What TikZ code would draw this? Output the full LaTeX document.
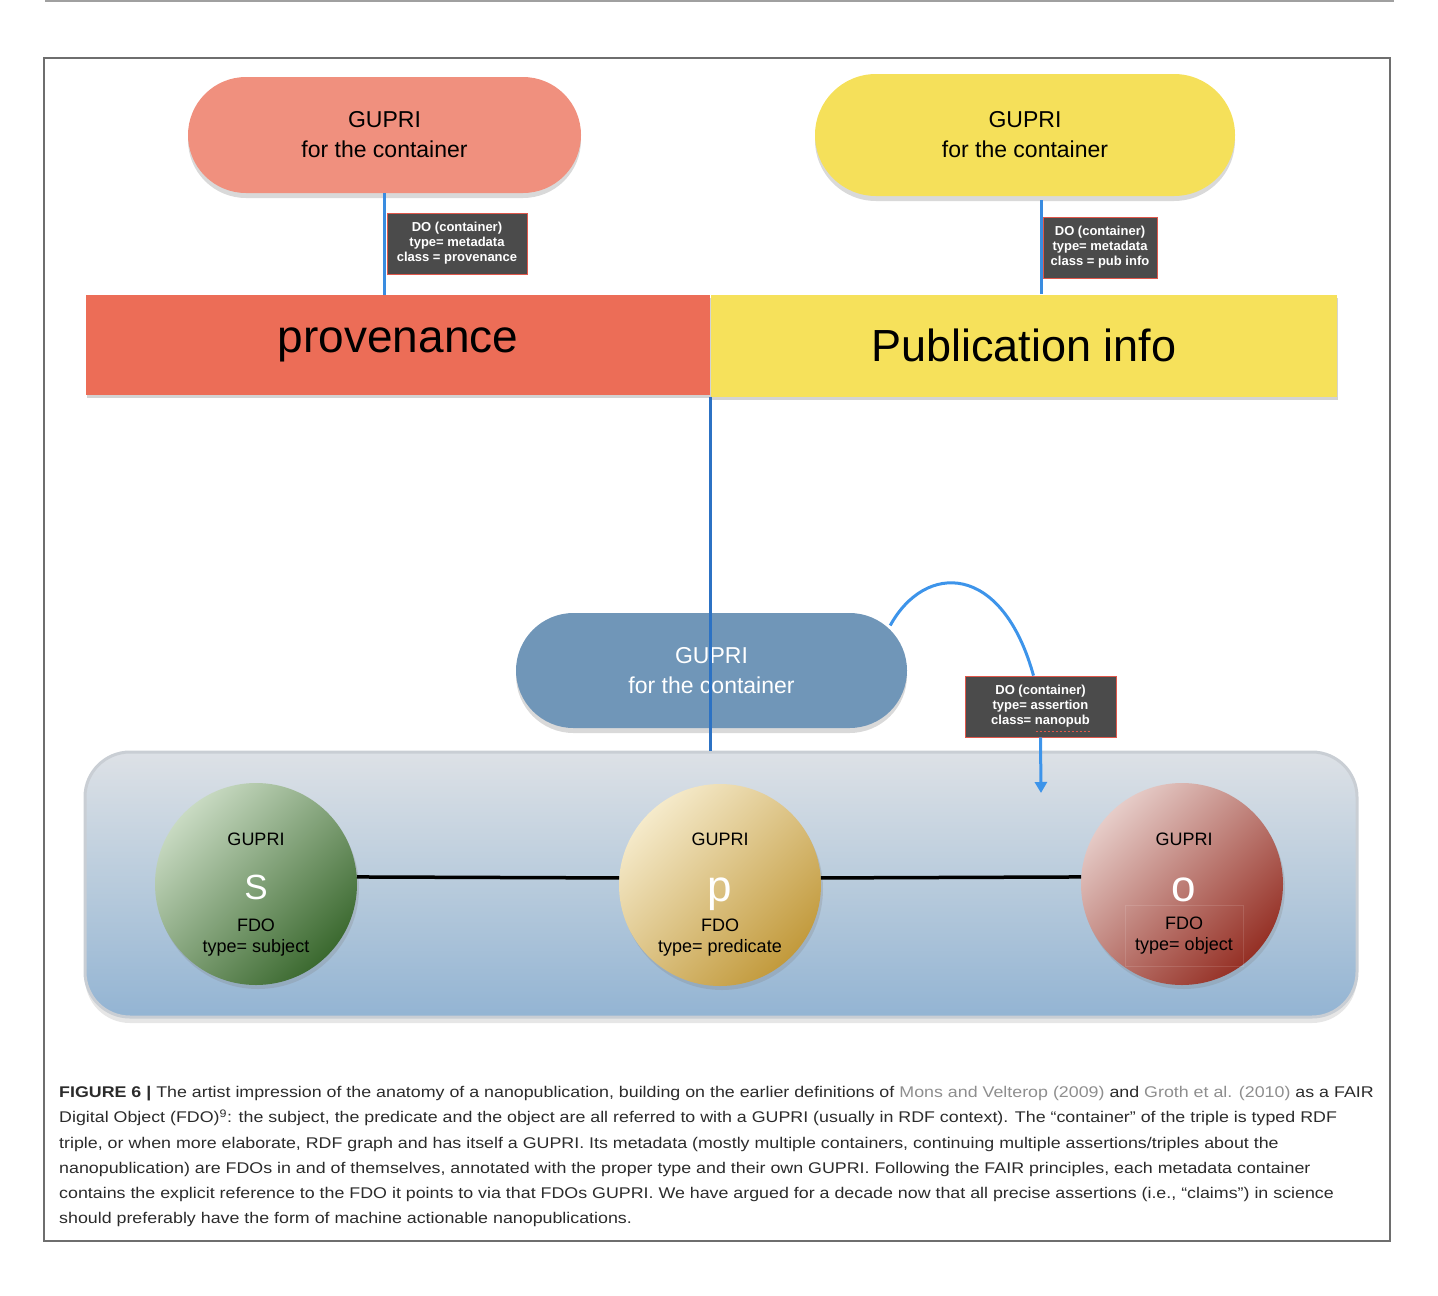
\documentclass[tikz,border=0pt]{standalone}
\usepackage{fontspec}
\setmainfont{Liberation Sans}
\newfontfamily\capfont{Liberation Sans}[FakeStretch=1.15]
\usetikzlibrary{positioning,shapes.misc,shadows,arrows.meta}

\definecolor{provpill}{HTML}{F0907E}
\definecolor{provfill}{HTML}{EC6D57}
\definecolor{pubpill}{HTML}{F5E05A}
\definecolor{pubfill}{HTML}{F6E15B}
\definecolor{assertpill}{HTML}{7096B8}
\definecolor{dogray}{HTML}{4B4B4B}
\definecolor{doborder}{HTML}{E0574B}
\definecolor{linkblue}{HTML}{3A8CE0}
\definecolor{mainblue}{HTML}{2C72C4}
\definecolor{arcblue}{HTML}{3D94EA}
\definecolor{tripletop}{HTML}{DDE1E6}
\definecolor{triplemid}{HTML}{B8CBDC}
\definecolor{triplebottom}{HTML}{93B4D3}
\definecolor{tripleedge}{HTML}{C9CED4}
\definecolor{subjlight}{HTML}{C8DAC2}
\definecolor{subjdark}{HTML}{3B692F}
\definecolor{predlight}{HTML}{F5EACA}
\definecolor{preddark}{HTML}{C29A3C}
\definecolor{objlight}{HTML}{E6CCC8}
\definecolor{objdark}{HTML}{953025}
\definecolor{captext}{HTML}{2B2B2B}
\definecolor{citegray}{HTML}{8E8E8E}
\definecolor{framegray}{HTML}{6E6E6E}
\definecolor{pagegray}{HTML}{A0A0A0}

\begin{document}
\begin{tikzpicture}[
    x=1pt, y=-1pt,
    >={Triangle[length=11pt,width=12pt]},
    pill/.style={rounded rectangle, align=center, inner sep=0pt,
        font=\fontsize{23}{30}\selectfont,
        drop shadow={opacity=0.3, shadow xshift=0pt, shadow yshift=-5pt}},
    metabox/.style={rectangle, inner sep=0pt, font=\fontsize{46}{50}\selectfont,
        drop shadow={opacity=0.35, shadow xshift=1pt, shadow yshift=-3pt}},
    dolabel/.style={rectangle, fill=dogray, draw=doborder, line width=0.8pt,
        text=white, align=center, inner sep=0pt,
        font=\bfseries\fontsize{13}{15}\selectfont},
    triplebox/.style={rectangle, rounded corners=45pt, draw=tripleedge, line width=3pt,
        top color=tripletop, bottom color=triplebottom, middle color=triplemid,
        drop shadow={opacity=0.2, shadow xshift=0pt, shadow yshift=-6pt}},
    fdo/.style 2 args={circle, minimum size=202pt, inner sep=0pt,
        top color=#1, bottom color=#2, shading angle=45,
        drop shadow={opacity=0.25, shadow xshift=2pt, shadow yshift=-4pt}},
    fdoletter/.style={text=white, inner sep=0pt, anchor=base},
    fdotext/.style={align=center, inner sep=0pt, font=\fontsize{18}{21}\selectfont},
    link/.style={draw=linkblue, line width=3pt},
    mainlink/.style={draw=mainblue, line width=3pt},
    assertlink/.style={draw=arcblue, line width=3pt},
    tripleline/.style={draw=black, line width=3.5pt},
    caption/.style={align=left, inner sep=0pt, text=captext,
        font=\capfont\fontsize{15.5}{25.3}\selectfont}
]
    \useasboundingbox (0,0) rectangle (1438,1296);

    % page rule and figure frame
    \draw[pagegray, line width=2pt] (45,1) -- (1394,1);
    \draw[framegray, line width=1.5pt] (44,58) rectangle (1390,1241);

    % the triple
    \node[triplebox, minimum width=1272pt, minimum height=265pt] (triple) at (721,884.5) {};

    \node[fdo={subjlight}{subjdark}] (subj) at (256,884) {};
    \node[fdotext, anchor=base] (subjid) at (256,845) {GUPRI};
    \node[fdoletter, font=\fontsize{35}{35}\selectfont] (subjletter) at (256,899) {S};
    \node[fdotext] (subjtype) at (256,938) {FDO\\type= subject};

    \node[fdo={predlight}{preddark}] (pred) at (720,885) {};
    \node[fdotext, anchor=base] (predid) at (720,845) {GUPRI};
    \node[fdoletter, font=\fontsize{44}{44}\selectfont] (predletter) at (720,901) {p};
    \node[fdotext] (predtype) at (720,938) {FDO\\type= predicate};

    \node[fdo={objlight}{objdark}] (obj) at (1182,884) {};
    \node[fdotext, anchor=base] (objid) at (1184,845) {GUPRI};
    \node[fdoletter, font=\fontsize{44}{44}\selectfont] (objletter) at (1184,901) {o};
    \node[fdotext, draw=white, draw opacity=0.12, line width=0.5pt,
        minimum width=118pt, minimum height=61pt] (objtype) at (1184,936) {FDO\\type= object};

    \draw[tripleline] (subj.4) -- (pred.176);
    \draw[tripleline] (pred.4) -- (obj.176);

    % metadata containers
    \node[pill, fill=provpill, minimum width=393pt, minimum height=116pt] (provid) at (384.5,135) {GUPRI\\for the container};
    \node[pill, fill=pubpill, minimum width=420pt, minimum height=122pt] (pubid) at (1025,135) {GUPRI\\for the container};

    \node[metabox, fill=provfill, minimum width=624pt, minimum height=100pt] (prov) at (398,345) {provenance};
    \node[metabox, fill=pubfill, minimum width=626pt, minimum height=102pt, font=\fontsize{45}{50}\selectfont] (pub) at (1024,345.5) {Publication info};

    \coordinate (pubtap) at ([xshift=16pt,yshift=-4pt]pubid.south);
    \draw[link] (provid.south) -- (provid.south |- prov.north);
    \draw[link] (pubtap) -- (pubtap |- pub.north);

    \node[dolabel, minimum width=140pt, minimum height=61pt] (provdo) at (457,243.5) {DO (container)\\type= metadata\\class = provenance};
    \node[dolabel, minimum width=114pt, minimum height=61pt] (pubdo) at (1100,247.5) {DO (container)\\type= metadata\\class = pub info};

    % assertion container
    \node[pill, fill=assertpill, text=white, minimum width=391pt, minimum height=115pt] (assertid) at (711.5,670.5) {GUPRI\\for the container};
    \draw[mainlink] (pub.south west) -- (pub.south west |- triple.north);

    \node[dolabel, minimum width=151pt, minimum height=61pt] (assertdo) at (1040.5,706.5) {DO (container)\\type= assertion\\class= nanopub};
    \draw[doborder, line width=1.2pt, dash pattern=on 2pt off 2pt] ([xshift=-5pt,yshift=6pt]assertdo.south) -- ([xshift=50pt,yshift=6pt]assertdo.south);
    \coordinate (arctip) at (1041,793);
    \draw[assertlink] ([shift={(-17pt,45pt)}]assertid.east) .. controls (925,562) and (1002,562) .. ([xshift=-7pt]assertdo.north);
    \draw[assertlink, ->] (assertdo.south) -- (arctip);

    % caption
    \node[caption, anchor=north west] (cap) at (59,1086) {\textbf{FIGURE 6 |} The artist impression of the anatomy of a nanopublication, building on the earlier definitions of {\color{citegray}Mons and Velterop (2009)} and {\color{citegray}Groth et al. (2010)} as a FAIR\\
        Digital Object (FDO)\textsuperscript{9}: the subject, the predicate and the object are all referred to with a GUPRI (usually in RDF context). The “container” of the triple is typed RDF\\
        triple, or when more elaborate, RDF graph and has itself a GUPRI. Its metadata (mostly multiple containers, continuing multiple assertions/triples about the\\
        nanopublication) are FDOs in and of themselves, annotated with the proper type and their own GUPRI. Following the FAIR principles, each metadata container\\
        contains the explicit reference to the FDO it points to via that FDOs GUPRI. We have argued for a decade now that all precise assertions (i.e., “claims”) in science\\
        should preferably have the form of machine actionable nanopublications.};
\end{tikzpicture}
\end{document}
